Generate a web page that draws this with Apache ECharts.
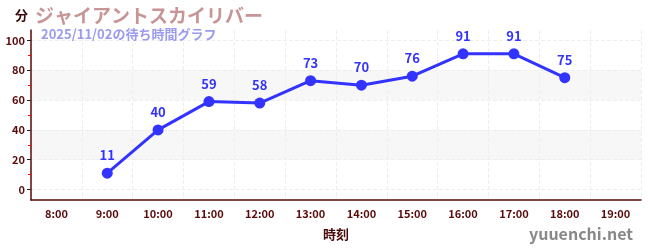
<!DOCTYPE html>
<html><head><meta charset="utf-8">
<script src="https://cdn.jsdelivr.net/npm/echarts@6/dist/echarts.min.js"></script>
<style>html,body{margin:0;padding:0;background:#fff}#c{width:650px;height:250px}</style>
</head><body><div id="c"></div>
<script>
const categories = ['8:00','9:00','10:00','11:00','12:00','13:00','14:00','15:00','16:00','17:00','18:00','19:00'];
const waitTimes = [null, 11, 40, 59, 58, 73, 70, 76, 91, 91, 75, null];
const yTickValues = [0, 20, 40, 60, 80, 100];

const chart = echarts.init(document.getElementById('c'));
const FONT = '"Noto Sans CJK JP", "Noto Sans", sans-serif';
chart.setOption({
  animation: false,
  textStyle: { fontFamily: FONT },
  title: [
    { text: 'ジャイアントスカイリバー', left: 30, top: 1,
      textStyle: { color: '#c79595', fontSize: 19, fontWeight: 'bold', fontFamily: FONT } },
    { text: '2025/11/02の待ち時間グラフ', left: 36, top: 23,
      textStyle: { color: '#9a9af0', fontSize: 13, fontWeight: 'bold', fontFamily: FONT } },
    { text: 'yuuenchi.net', right: 12, bottom: 3,
      textStyle: { color: '#888888', fontSize: 16, fontWeight: 'bold', fontFamily: FONT } }
  ],
  grid: { left: 31, right: 9, top: 30, bottom: 50, containLabel: false },
  xAxis: {
    type: 'category', data: categories, boundaryGap: true,
    name: '時刻', nameLocation: 'middle', nameGap: 28,
    nameTextStyle: { color: '#4a0a0a', fontSize: 13, fontWeight: 'bold', fontFamily: FONT },
    axisLine: { onZero: false, lineStyle: { color: '#5a0a0a', width: 1.5 } },
    axisTick: { alignWithLabel: true, inside: true, length: 4, lineStyle: { color: '#888' } },
    axisLabel: { color: '#5a0a0a', fontSize: 11, fontWeight: 'bold', margin: 8 },
    splitLine: { show: true, lineStyle: { color: '#eeeeee', type: 'dashed' } }
  },
  yAxis: {
    type: 'value', min: -7, max: 107,
    name: '分', nameLocation: 'end', nameGap: 8,
    nameTextStyle: { color: '#3a0a0a', fontSize: 13, fontWeight: 'bold', align: 'right', padding: [0, 3, 0, 0], fontFamily: FONT },
    axisLine: { show: true, lineStyle: { color: '#5a0a0a', width: 1.5 } },
    axisTick: { show: true, customValues: yTickValues, length: 4, lineStyle: { color: '#222' } },
    minorTick: { show: true, splitNumber: 2, length: 3, lineStyle: { color: '#ff0000' } },
    axisLabel: { customValues: yTickValues, color: '#5a0a0a', fontSize: 11, fontWeight: 'bold', margin: 6 },
    splitLine: { show: true, lineStyle: { color: '#eeeeee', type: 'dashed' } },
    splitArea: { show: true, areaStyle: { color: ['rgba(255,255,255,0)', '#f7f7f7'] } }
  },
  series: [{
    type: 'line', data: waitTimes, connectNulls: false,
    symbol: 'circle', symbolSize: 11,
    itemStyle: { color: '#3333ff' },
    lineStyle: { color: '#3333ff', width: 3 },
    label: { show: true, position: 'top', distance: 6, color: '#3333ff', fontSize: 13, fontWeight: 'bold', fontFamily: FONT }
  }]
});
</script></body></html>
